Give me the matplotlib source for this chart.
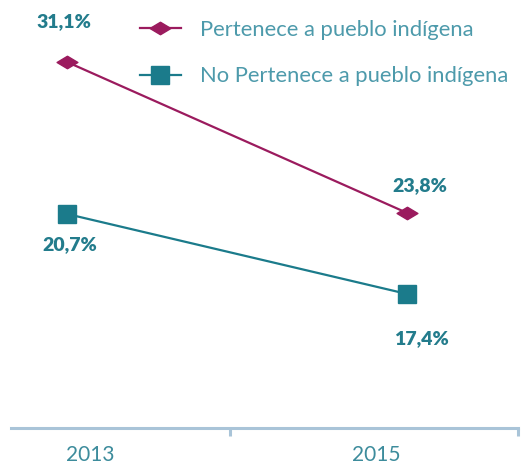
import matplotlib.pyplot as plt
from matplotlib.path import Path

plt.rcParams['font.family'] = ['Lato', 'DejaVu Sans']

years = ['2013', '2015']
pertenece = [31.1, 23.8]
no_pertenece = [20.7, 17.4]
labels_pert = ['31,1%', '23,8%']
labels_no = ['20,7%', '17,4%']

purple = '#9b1b5e'
teal = '#1b7b8b'
label_col = '#237c8c'
text_col = '#4d9aab'
axis_col = '#a9c4d8'

# flat diamond marker
diamond = Path([(-1, 0), (0, 0.6), (1, 0), (0, -0.6), (-1, 0)],
               [Path.MOVETO, Path.LINETO, Path.LINETO, Path.LINETO, Path.CLOSEPOLY])

fig = plt.figure(figsize=(5.24, 4.66), dpi=100)
ax = fig.add_axes([11 / 524, (466 - 428) / 466, (518 - 11) / 524, 428 / 466])
ax2 = ax.twinx()

x = [0, 1]
l1, = ax.plot(x, pertenece, color=purple, lw=1.6, marker=diamond, markersize=15,
              label='Pertenece a pueblo indígena')
l2, = ax2.plot(x, no_pertenece, color=teal, lw=1.6, marker='s', markersize=13,
               label='No Pertenece a pueblo indígena')

ax.set_xlim(-0.165, 1.326)
ax.set_ylim(13.4, 34.1)
ax2.set_ylim(11.87, 29.53)

# value labels
lbl = dict(ha='center', va='center', color=label_col, fontsize=14, fontweight='heavy',
           textcoords='offset points')
ax.annotate(labels_pert[0], (x[0], pertenece[0]), xytext=(-2, 29), **lbl)
ax.annotate(labels_pert[1], (x[1], pertenece[1]), xytext=(9, 20), **lbl)
ax2.annotate(labels_no[0], (x[0], no_pertenece[0]), xytext=(2, -22), **lbl)
ax2.annotate(labels_no[1], (x[1], no_pertenece[1]), xytext=(10, -32), **lbl)

for a in (ax, ax2):
    for s in ['top', 'left', 'right']:
        a.spines[s].set_visible(False)
    a.set_yticks([])
ax2.spines['bottom'].set_visible(False)
ax2.tick_params(axis='x', bottom=False, labelbottom=False)

ax.spines['bottom'].set_color(axis_col)
ax.spines['bottom'].set_linewidth(2.2)
ax.set_xticks([0.479, 1.326])
ax.set_xticklabels([])
ax.tick_params(axis='x', which='major', color=axis_col, width=2.2, length=6)
ax.set_xticks([0.068, 0.909], minor=True)
ax.set_xticklabels(years, minor=True)
ax.tick_params(axis='x', which='minor', length=0, pad=12, labelsize=15, labelcolor='#3d8c9c')

leg = fig.legend(handles=[l1, l2], loc='upper left', bbox_to_anchor=(140 / 524, 1 - 20 / 466),
                 frameon=False, fontsize=15.8, handlelength=1.85, handletextpad=0.9,
                 labelspacing=1.2, borderpad=0, borderaxespad=0)
for t in leg.get_texts():
    t.set_color(text_col)

fig.savefig('out.png', dpi=100)
